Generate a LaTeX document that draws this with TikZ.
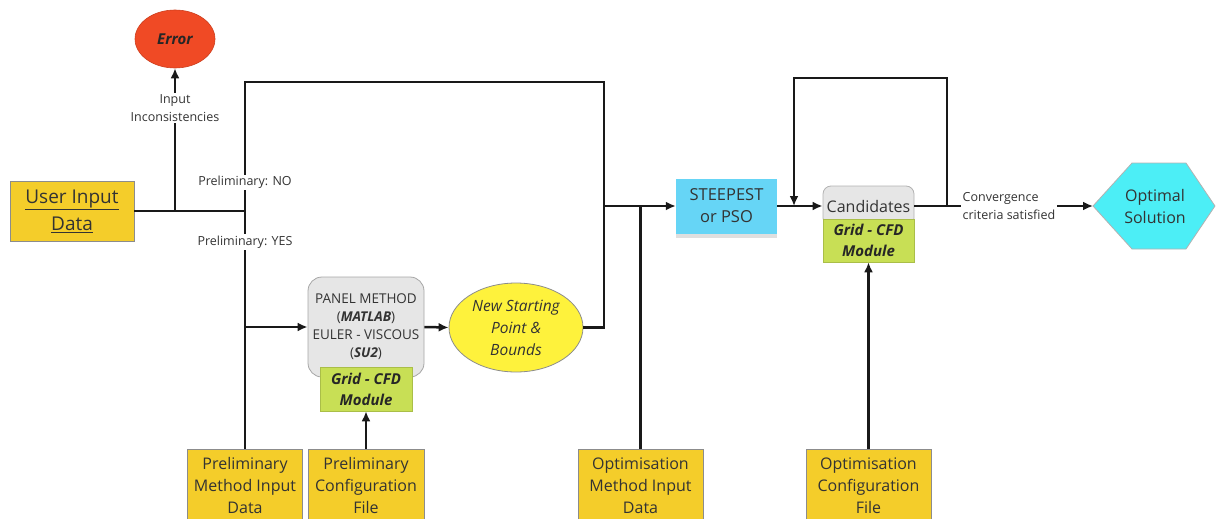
\documentclass[tikz,border=0pt]{standalone}
\usepackage{fontspec}
\setmainfont{Open Sans}
\usepackage[x11names, svgnames]{xcolor}
\usetikzlibrary{arrows.meta, calc, shadows, shapes.geometric, positioning}

\definecolor{boxyellow}{HTML}{F4CD2A}
\definecolor{errred}{HTML}{F04A25}
\definecolor{nspyellow}{HTML}{FEF23C}
\definecolor{panelgray}{HTML}{E6E6E6}
\definecolor{gridgreen}{HTML}{C8DF55}
\definecolor{steepblue}{HTML}{66D5F6}
\definecolor{optcyan}{HTML}{4CEEF6}
\definecolor{txt}{HTML}{333333}

\begin{document}
\begin{tikzpicture}[x=1pt, y=-1pt,
	link/.style={line width=2.5pt, black!90},
	arr/.style={link, -{Latex[length=10pt, width=9pt]}},
	inbox/.style={rectangle, draw=black!45, line width=0.8pt, fill=boxyellow, text=txt, align=center, inner sep=0pt, font=\fontsize{16}{22}\selectfont},
	lab/.style={fill=white, text=txt, align=center, inner sep=1.5pt, font=\fontsize{12.5}{18}\selectfont},
	cfdbox/.style={rectangle, draw=gridgreen!85!black, line width=0.6pt, fill=gridgreen, text=black!85, align=center, inner sep=0pt, font=\fontsize{15}{21}\selectfont\bfseries\itshape}
	]

	\useasboundingbox (0,0) rectangle (1216,519);

	% input side
	\node[inbox, minimum width=124, minimum height=60, font=\fontsize{19}{27}\selectfont] (user) at (72,211) {\underline{User Input}\\\underline{Data}};
	\node[ellipse, draw=errred!85!black, line width=0.6pt, fill=errred, minimum width=80, minimum height=58, text=black!85, font=\fontsize{15}{18}\selectfont\bfseries\itshape] (err) at (175,39) {Error};

	\node[inbox, minimum width=115, minimum height=72] (pmid) at (245,485.5) {Preliminary\\Method Input\\Data};
	\node[inbox, minimum width=116, minimum height=72] (pcfg) at (366,485.5) {Preliminary\\Configuration\\File};
	\node[inbox, minimum width=125, minimum height=72] (omid) at (640.5,485.5) {Optimisation\\Method Input\\Data};
	\node[inbox, minimum width=125, minimum height=72] (ocfg) at (868.5,485.5) {Optimisation\\Configuration\\File};

	% preliminary solver
	\node[rectangle, rounded corners=14pt, draw=black!35, line width=0.8pt, fill=panelgray, minimum width=116, minimum height=100, align=center, text=txt, font=\fontsize{13.5}{18}\selectfont] (panel) at (366,327) {PANEL METHOD\\(\textbf{\textit{MATLAB}})\\EULER - VISCOUS\\(\textbf{\textit{SU2}})};
	\node[cfdbox, minimum width=92, minimum height=44] (pgrid) at (366,389) {Grid - CFD\\Module};

	\node[ellipse, draw=black!45, line width=0.8pt, fill=nspyellow, minimum width=134, minimum height=89, inner sep=0pt, align=center, text=txt, font=\fontsize{15.5}{22}\selectfont\itshape] (nsp) at (516,327.5) {New Starting\\Point \&\\Bounds};

	% optimiser
	\node[rectangle, fill=steepblue, minimum width=101, minimum height=55, align=center, text=txt, font=\fontsize{16.5}{22}\selectfont, drop shadow={shadow xshift=0pt, shadow yshift=-4pt, opacity=0.25}] (steep) at (726.5,206) {STEEPEST\\or PSO};

	\node[rectangle, rounded corners=8pt, draw=black!30, line width=0.8pt, fill=panelgray, minimum width=91, minimum height=40, text=txt, font=\fontsize{16}{20}\selectfont] (cand) at (868.5,206) {Candidates};
	\node[cfdbox, minimum width=91, minimum height=43] (cgrid) at (868.5,240.5) {Grid - CFD\\Module};

	\node[lab, align=left] (conv) at (1009,206) {Convergence\\criteria satisfied};

	\coordinate (hexw) at (1093,206);
	\filldraw[fill=optcyan, draw=black!30, line width=0.8pt] (hexw) -- (1132,163) -- (1186,163) -- (1215,206) -- (1186,249) -- (1132,249) -- cycle;
	\node[text=txt, align=center, font=\fontsize{16}{22}\selectfont] (opt) at (1155,206) {Optimal\\Solution};

	% connectors
	\coordinate (jerr) at (175,211);
	\coordinate (jpre) at (245,211);
	\coordinate (jpan) at (245,327);
	\coordinate (tl) at (245,82);
	\coordinate (tr) at (604,82);
	\coordinate (jopt) at (604,206);
	\coordinate (jomi) at (640.5,206);
	\coordinate (lr) at (947,78);
	\coordinate (ll) at (794,78);
	\coordinate (lin) at (794,206);

	\draw[link] (user.east) -- (jpre);
	\draw[arr] (jerr) -- node[lab, pos=0.72] {Input\\Inconsistencies} (err.south);
	\draw[link] (jpre) -- node[lab, pos=0.22] {Preliminary: NO} (tl) -- (tr) |- (nsp.east);
	\draw[link] (jpre) -- node[lab, pos=0.13] {Preliminary: YES} (pmid.north);
	\draw[arr] (jpan) -- (panel.west);
	\draw[arr] (panel.east) -- (nsp.west);
	\draw[arr] (pcfg.north) -- (pgrid.south);

	\draw[arr] (jopt) -- (steep.west);
	\draw[link] (omid.north) -- (jomi);
	\draw[arr] (steep.east) -- (cand.west);
	\draw[arr] (lr |- cand.east) -- (lr) -- (ll) -- (lin);
	\draw[link] (cand.east) -- (conv.west);
	\draw[arr] (conv.east) -- (hexw);
	\draw[arr] (ocfg.north) -- (cgrid.south);

\end{tikzpicture}
\end{document}
